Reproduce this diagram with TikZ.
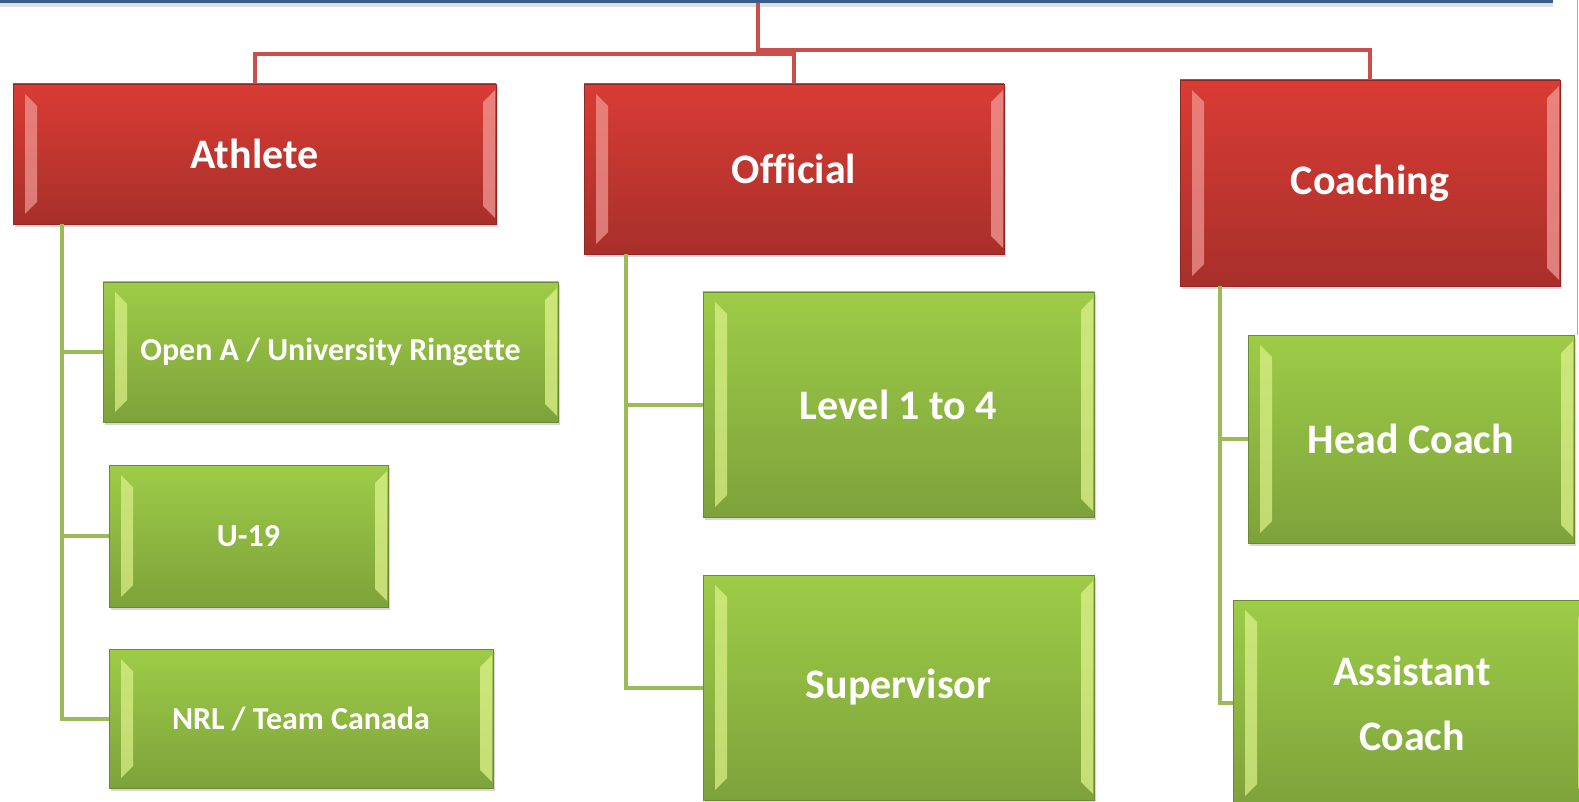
\documentclass[tikz,border=0pt]{standalone}
\usepackage{fontspec}
\setmainfont[Ligatures=CommonOff]{Carlito}
\usetikzlibrary{shadows}
\definecolor{rtop}{HTML}{D93C34}
\definecolor{rmid}{HTML}{CE4343}
\definecolor{rbot}{HTML}{A82F2A}
\definecolor{rhl}{HTML}{F29A96}
\definecolor{gtop}{HTML}{9DCC47}
\definecolor{gmid}{HTML}{9BC24B}
\definecolor{gbot}{HTML}{7EA23B}
\definecolor{ghl}{HTML}{DDF28A}
\definecolor{rline}{HTML}{CC4E4C}
\definecolor{gline}{HTML}{9BBB59}
\definecolor{rootblue}{HTML}{385D8A}
\newcommand\bevel[1]{%
  \fill[#1, fill opacity=0.7] ([xshift=6pt,yshift=-5pt]path picture bounding box.north west) -- ([xshift=12pt,yshift=-11pt]path picture bounding box.north west)
    -- ([xshift=12pt,yshift=11pt]path picture bounding box.south west) -- ([xshift=6pt,yshift=5pt]path picture bounding box.south west) -- cycle;
  \fill[#1, fill opacity=0.75] ([xshift=-0.5pt,yshift=-3pt]path picture bounding box.north east) -- ([xshift=-6.5pt,yshift=-9pt]path picture bounding box.north east)
    -- ([xshift=-6.5pt,yshift=9pt]path picture bounding box.south east) -- ([xshift=-0.5pt,yshift=3pt]path picture bounding box.south east) -- cycle;}

\begin{document}
\begin{tikzpicture}[x=0.5pt,y=-0.5pt,
  box/.style={rectangle, inner sep=0pt, align=center, text=white,
    drop shadow={opacity=0.3,shadow xshift=0.8pt,shadow yshift=-1.5pt}},
  redbox/.style={box, top color=rtop, middle color=rmid, bottom color=rbot,
    draw=rbot!85!black, line width=0.4pt, path picture={\bevel{rhl}},
    font=\fontsize{21}{25}\bfseries},
  greenbox/.style={box, top color=gtop, middle color=gmid, bottom color=gbot,
    draw=gbot!85!black, line width=0.4pt, path picture={\bevel{ghl}}},
  big/.style={font=\fontsize{21}{32.5}\bfseries},
  small/.style={font=\fontsize{16}{20}\bfseries},
  redline/.style={rline, line width=2pt},
  greenline/.style={gline, line width=2pt}]
  \useasboundingbox (0,0) rectangle (1579,802);
  \clip (0,0) rectangle (1579,802);
  \fill[white] (0,0) rectangle (1579,802);

  \node[fill=rootblue, minimum width=776.5pt, minimum height=21.5pt, inner sep=0pt,
    drop shadow={opacity=0.25,shadow xshift=0pt,shadow yshift=-2pt}] (root) at (776.5,-18.5) {};
  \coordinate (tap) at (758,3);

  \node[redbox, minimum width=241.5pt, minimum height=70pt] (athlete) at (254.5,154) {Athlete};
  \node[redbox, minimum width=210pt, minimum height=85pt] (official) at (794,169) {Official};
  \node[redbox, minimum width=190pt, minimum height=103pt] (coaching) at (1370,183) {Coaching};

  \node[greenbox, small, minimum width=227.5pt, minimum height=70pt] (opena) at (330.5,352) {Open A / University Ringette};
  \node[greenbox, small, minimum width=139.5pt, minimum height=71pt] (u19) at (248.5,536) {U-19};
  \node[greenbox, small, minimum width=192pt, minimum height=69.5pt] (nrl) at (301,718.5) {NRL / Team Canada};
  \node[greenbox, big, minimum width=195.5pt, minimum height=112.5pt] (level) at (898.5,404.5) {Level 1 to 4};
  \node[greenbox, big, minimum width=195.5pt, minimum height=112.5pt] (supervisor) at (898.5,687.5) {Supervisor};
  \node[greenbox, big, minimum width=163pt, minimum height=104pt] (head) at (1411,439) {Head Coach};
  \node[greenbox, big, minimum width=179pt, minimum height=103pt] (assistant) at (1412,703) {Assistant\\Coach};

  \draw[redline] (athlete.north) |- ([yshift=15pt]official.north) -- (official.north);
  \draw[redline] (tap) -- ([yshift=14pt]official.north -| tap);
  \draw[redline] ([yshift=15pt]coaching.north -| tap) -| (coaching.north);

  \foreach \k in {opena,u19,nrl} \draw[greenline] ([xshift=24.5pt]athlete.south west) |- (\k.west);
  \foreach \k in {level,supervisor} \draw[greenline] ([xshift=21pt]official.south west) |- (\k.west);
  \foreach \k in {head,assistant} \draw[greenline] ([xshift=20pt]coaching.south west) |- (\k.west);

  \draw[rline!60!white, line width=0.7pt] (1577.5,0) -- (1577.5,335);
\end{tikzpicture}
\end{document}
